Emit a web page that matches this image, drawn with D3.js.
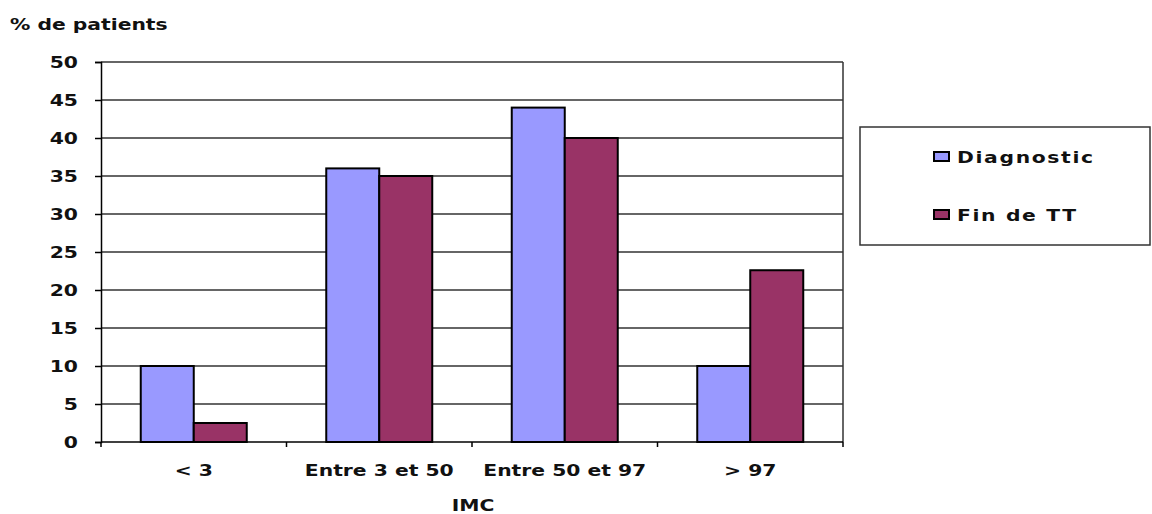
<!DOCTYPE html>
<html><head><meta charset="utf-8">
<script src="https://cdn.jsdelivr.net/npm/d3@7"></script>
<style>
html,body{margin:0;padding:0;background:#fff;}
svg{display:block;}
text{font-family:"DejaVu Sans",Verdana,sans-serif;font-weight:bold;fill:#111;}
</style></head>
<body>
<svg id="chart" width="1152" height="514"></svg>
<script>
const categories = ["< 3", "Entre 3 et 50", "Entre 50 et 97", "> 97"];
const seriesNames = ["Diagnostic", "Fin de TT"];
const diagnostic = [10, 36, 44, 10];
const finDeTT = [2.5, 35, 40, 22.6];
const yTicks = [0, 5, 10, 15, 20, 25, 30, 35, 40, 45, 50];
const colors = ["#9999FF", "#993366"];
const yTitle = "% de patients";
const xTitle = "IMC";

const series = [diagnostic, finDeTT];
const svg = d3.select("#chart");
const L = 101, R = 843, T = 62, B = 442;
const SX = 1.27; // horizontal stretch of text in the reference
const FS = 16;

const x = d3.scaleBand().domain(categories).range([L, R]).padding(0);
const xs = d3.scaleBand().domain(seriesNames).range([0, x.bandwidth()]).paddingInner(0).paddingOuter(0.75);
const y = d3.scaleLinear().domain([0, 50]).range([B, T]);

function stext(g, tx, ty, str, anchor, extra) {
  const t = g.append("text").attr("transform", `translate(${tx},${ty}) scale(${SX},1)`)
    .attr("text-anchor", anchor).attr("font-size", FS).text(str);
  if (extra) extra(t);
  return t;
}

// gridlines
svg.append("g").selectAll("line").data(yTicks.filter(d => d > 0)).join("line")
  .attr("x1", L).attr("x2", R).attr("y1", d => y(d)).attr("y2", d => y(d))
  .attr("stroke", "#333").attr("stroke-width", 1.5);
// right border
svg.append("line").attr("x1", R).attr("x2", R).attr("y1", T).attr("y2", B)
  .attr("stroke", "#333").attr("stroke-width", 1.5);

// bars
const gBars = svg.append("g");
series.forEach((vals, si) => {
  gBars.selectAll(null).data(vals).join("rect")
    .attr("x", (d, i) => x(categories[i]) + xs(seriesNames[si]))
    .attr("y", d => y(d))
    .attr("width", xs.bandwidth())
    .attr("height", d => y(0) - y(d))
    .attr("fill", colors[si])
    .attr("stroke", "#000").attr("stroke-width", 2);
});

// y axis
const yAxis = d3.axisLeft(y).tickValues(yTicks).tickSize(6).tickFormat("");
const gy = svg.append("g").attr("transform", `translate(${L},0)`).call(yAxis);
gy.select(".domain").attr("stroke", "#000").attr("stroke-width", 1.5);
gy.selectAll(".tick line").attr("stroke", "#000").attr("stroke-width", 1.5);
yTicks.forEach(v => stext(svg, 78, y(v) + 6, String(v), "end"));

// x axis
svg.append("line").attr("x1", L).attr("x2", R).attr("y1", B).attr("y2", B)
  .attr("stroke", "#000").attr("stroke-width", 1.5);
const bounds = categories.map(c => x(c)).concat([R]);
svg.append("g").selectAll("line").data(bounds).join("line")
  .attr("x1", d => d).attr("x2", d => d).attr("y1", B).attr("y2", B + 5)
  .attr("stroke", "#000").attr("stroke-width", 1.5);
categories.forEach(c => stext(svg, x(c) + x.bandwidth() / 2, 476, c, "middle"));

// titles
stext(svg, 10, 30, yTitle, "start");
stext(svg, 473, 511, xTitle, "middle");

// legend
svg.append("rect").attr("x", 860).attr("y", 127).attr("width", 290).attr("height", 118)
  .attr("fill", "#fff").attr("stroke", "#333").attr("stroke-width", 1.5);
seriesNames.forEach((n, i) => {
  const ly = 157 + i * 58;
  svg.append("rect").attr("x", 934).attr("y", ly - 5).attr("width", 15).attr("height", 9)
    .attr("fill", colors[i]).attr("stroke", "#000").attr("stroke-width", 2);
  stext(svg, 957, ly + 6, n, "start", t => t.attr("letter-spacing", 1.3));
});
</script>
</body></html>
